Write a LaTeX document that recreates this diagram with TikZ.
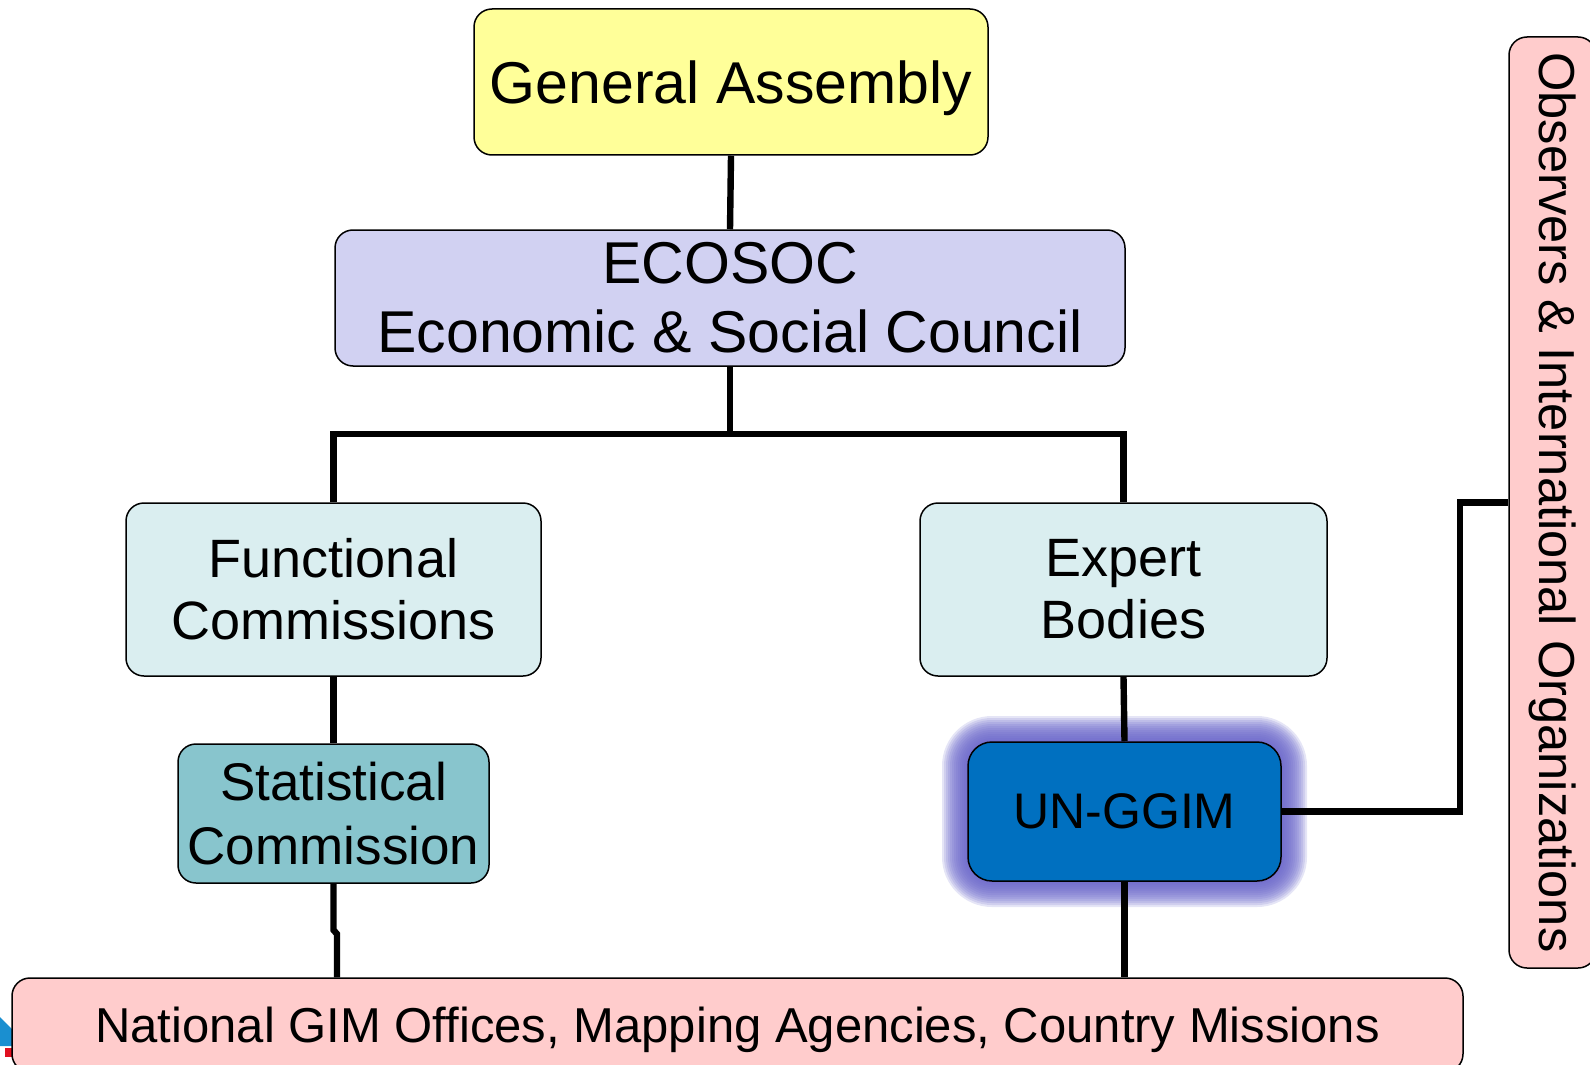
\documentclass[tikz,border=0pt]{standalone}
\usepackage{fontspec}
\setmainfont{Liberation Sans}
\usetikzlibrary{calc}
\definecolor{gaY}{HTML}{FFFF99}
\definecolor{ecoL}{HTML}{D1D1F2}
\definecolor{comC}{HTML}{DAEEF0}
\definecolor{statT}{HTML}{88C5CD}
\definecolor{ggimB}{HTML}{0070C0}
\definecolor{glowP}{HTML}{6A66CC}
\definecolor{pinkN}{HTML}{FFCCCC}
\definecolor{logoB}{HTML}{1A8FD0}
\definecolor{logoR}{HTML}{E01020}
\pgfdeclarelayer{glowlayer}
\pgfdeclarelayer{background}
\pgfsetlayers{glowlayer,background,main}
\begin{document}
\begin{tikzpicture}[x=0.5pt,y=-0.5pt,
  box/.style={draw=black, line width=0.75pt, rounded corners=9pt, align=center, inner sep=0pt, text=black},
  conn/.style={line width=3.2pt, line join=miter}]
\useasboundingbox (0,0) rectangle (1590,1065);
\begin{pgfonlayer}{glowlayer}
\fill[white] (0,0) rectangle (1590,1065);
\fill[logoB] (0,1017) -- (13,1030) -- (13,1046) -- (0,1046) -- cycle;
\fill[logoR] (5,1048) rectangle (12,1057);
\foreach \o in {26,24,...,2} {
  \pgfmathsetmacro\rr{(\o+24)*0.5}
  \fill[glowP, opacity=0.17, rounded corners=\rr pt] (968-\o,742-\o) rectangle (1281+\o,881+\o);
}
\end{pgfonlayer}

\node[box, fill=gaY, minimum width=257pt, minimum height=73pt, text depth=0pt, font=\fontsize{29.5}{34}\selectfont] (ga) at (731,82) {General Assembly};
\node[box, fill=ecoL, minimum width=395pt, minimum height=68pt, font=\fontsize{29.5}{34.5}\selectfont] (eco) at (730,298) {\raisebox{-1.5pt}{ECOSOC}\\\raisebox{-1.5pt}{Economic \& Social Council}};
\node[box, fill=comC, minimum width=207.5pt, minimum height=86.5pt, font=\fontsize{27}{31}\selectfont] (func) at (333.5,589.5) {Functional\\Commissions};
\node[box, fill=comC, minimum width=203.5pt, minimum height=86.5pt, font=\fontsize{27}{31}\selectfont] (exp) at (1123.5,589.5) {Expert\\Bodies};
\node[box, fill=statT, minimum width=155.5pt, minimum height=69.5pt, font=\fontsize{26.5}{32}\selectfont] (stat) at (333.5,813.5) {Statistical\\Commission};
\node[box, fill=ggimB, rounded corners=12pt, minimum width=156.5pt, minimum height=69.5pt, font=\fontsize{25}{30}\selectfont] (ggim) at (1124.5,811.5) {UN-GGIM};
\node[box, fill=pinkN, minimum width=725.5pt, minimum height=47pt, text depth=0pt, font=\fontsize{24.5}{29}\selectfont] (nat) at (737.5,1025) {National GIM Offices, Mapping Agencies, Country Missions};
\node[box, fill=pinkN, rotate=-90, minimum width=465.5pt, minimum height=43.5pt, font=\fontsize{25.3}{30}\selectfont] (obs) at (1552.5,502.5) {Observers \& International Organizations};

\begin{pgfonlayer}{background}
\coordinate (j) at (730,434);
\draw[conn] (ga.south) -- (eco.north);
\draw[conn] (eco.south) -- (j);
\draw[conn] (func.north) |- (j) -| (exp.north);
\draw[conn] (func.south) -- (stat.north);
\coordinate (s1) at (333.5,930);
\coordinate (s2) at (337,934);
\draw[conn] (stat.south) -- (s1) -- (s2) -- (s2 |- nat.north);
\draw[conn] (exp.south) -- (ggim.north);
\draw[conn] (ggim.south) -- (ggim.south |- nat.north);
\coordinate (k) at (1460,811.5);
\draw[conn] (ggim.east) -- (k) |- (obs.south);
\end{pgfonlayer}
\end{tikzpicture}
\end{document}
